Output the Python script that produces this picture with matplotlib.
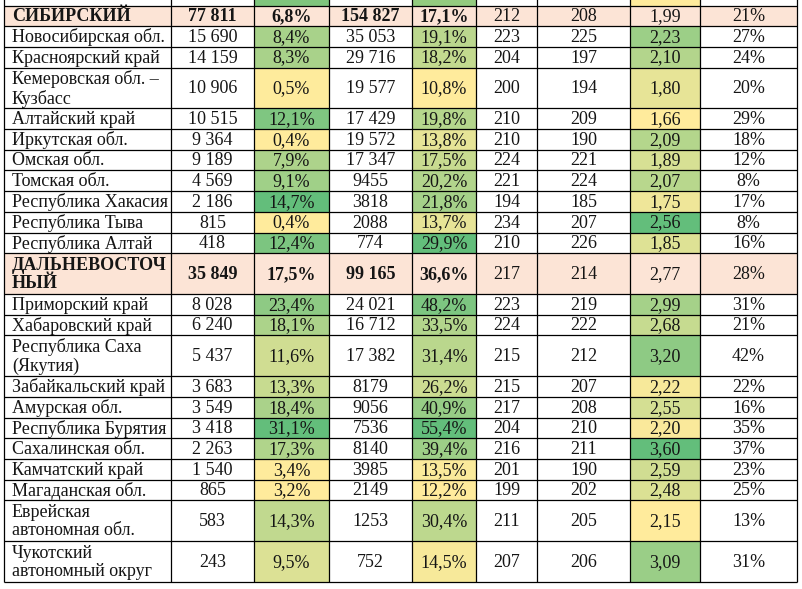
import matplotlib
matplotlib.use("Agg")
import matplotlib.pyplot as plt
from matplotlib.patches import Rectangle
from matplotlib.colors import to_rgb
import numpy as np

# ---------------- data ----------------
regions = ["СИБИРСКИЙ", "Новосибирская обл.", "Красноярский край",
           "Кемеровская обл. –\nКузбасс", "Алтайский край", "Иркутская обл.",
           "Омская обл.", "Томская обл.", "Республика Хакасия", "Республика Тыва",
           "Республика Алтай", "ДАЛЬНЕВОСТОЧ\nНЫЙ", "Приморский край",
           "Хабаровский край", "Республика Саха\n(Якутия)", "Забайкальский край",
           "Амурская обл.", "Республика Бурятия", "Сахалинская обл.",
           "Камчатский край", "Магаданская обл.", "Еврейская\nавтономная обл.",
           "Чукотский\nавтономный округ"]
is_total = [True] + [False] * 10 + [True] + [False] * 11
group = [0] * 11 + [1] * 12

col1 = ["77 811", "15 690", "14 159", "10 906", "10 515", "9 364", "9 189", "4 569",
        "2 186", "815", "418", "35 849", "8 028", "6 240", "5 437", "3 683", "3 549",
        "3 418", "2 263", "1 540", "865", "583", "243"]
pct1 = [6.8, 8.4, 8.3, 0.5, 12.1, 0.4, 7.9, 9.1, 14.7, 0.4, 12.4,
        17.5, 23.4, 18.1, 11.6, 13.3, 18.4, 31.1, 17.3, 3.4, 3.2, 14.3, 9.5]
col2 = ["154 827", "35 053", "29 716", "19 577", "17 429", "19 572", "17 347", "9455",
        "3818", "2088", "774", "99 165", "24 021", "16 712", "17 382", "8179", "9056",
        "7536", "8140", "3985", "2149", "1253", "752"]
pct2 = [17.1, 19.1, 18.2, 10.8, 19.8, 13.8, 17.5, 20.2, 21.8, 13.7, 29.9,
        36.6, 48.2, 33.5, 31.4, 26.2, 40.9, 55.4, 39.4, 13.5, 12.2, 30.4, 14.5]
col3 = [212, 223, 204, 200, 210, 210, 224, 221, 194, 234, 210,
        217, 223, 224, 215, 215, 217, 204, 216, 201, 199, 211, 207]
col4 = [208, 225, 197, 194, 209, 190, 221, 224, 185, 207, 226,
        214, 219, 222, 212, 207, 208, 210, 211, 190, 202, 205, 206]
ratio = [1.99, 2.23, 2.10, 1.80, 1.66, 2.09, 1.89, 2.07, 1.75, 2.56, 1.85,
         2.77, 2.99, 2.68, 3.20, 2.22, 2.55, 2.20, 3.60, 2.59, 2.48, 2.15, 3.09]
share = [21, 27, 24, 20, 29, 18, 12, 8, 17, 8, 16,
         28, 31, 21, 42, 22, 16, 35, 37, 23, 25, 13, 31]

# ---------------- layout / style ----------------
W, H = 802, 589
col_x = [4, 171, 254, 329, 412, 476, 537, 630, 700, 797]
y0 = 5.5
single_h, double_h = 20.7, 40.8
FONT = "Liberation Serif"
FS = 13
TXT = "#151515"
PEACH = "#FCE4D6"
C_MIN = np.array(to_rgb("#FFEB9C"))
C_MAX = np.array(to_rgb("#63BE7B"))


def fmt_pct(v):
    return f"{v:.1f}".replace(".", ",") + "%"


def scale_color(v, lo, hi):
    t = 0.0 if hi == lo else (v - lo) / (hi - lo)
    return tuple(C_MIN + (C_MAX - C_MIN) * t)


fig = plt.figure(figsize=(W / 100, H / 100), dpi=100)
ax = fig.add_axes([0, 0, 1, 1])
ax.set_xlim(0, W)
ax.set_ylim(H, 0)
ax.axis("off")

# row geometry
heights = [double_h if "\n" in r else single_h for r in regions]
tops = [y0]
for h in heights[:-1]:
    tops.append(tops[-1] + h)
bottom = tops[-1] + heights[-1]

# partial row at the very top (cut off)
part_colors = {2: "#7FC57D", 4: "#93CB7F", 7: "#FFEB9C"}
for ci, c in part_colors.items():
    ax.add_patch(Rectangle((col_x[ci], -20), col_x[ci + 1] - col_x[ci], 20 + y0,
                           facecolor=c, edgecolor="none", zorder=1))

# colour scales per group
scaled_cols = {2: pct1, 4: pct2, 7: ratio}
ranges = {}
for ci, vals in scaled_cols.items():
    for g in (0, 1):
        vs = [v for v, gg, t in zip(vals, group, is_total) if gg == g and not t]
        ranges[(ci, g)] = (min(vs), max(vs))

for i, name in enumerate(regions):
    top, h = tops[i], heights[i]
    yc = top + h / 2
    texts = [col1[i], fmt_pct(pct1[i]), col2[i], fmt_pct(pct2[i]), str(col3[i]),
             str(col4[i]), f"{ratio[i]:.2f}".replace(".", ","), f"{share[i]}%"]
    # backgrounds
    for ci in range(9):
        fc = None
        if is_total[i]:
            fc = PEACH
        elif ci in scaled_cols:
            lo, hi = ranges[(ci, group[i])]
            fc = scale_color(scaled_cols[ci][i], lo, hi)
        if fc is not None:
            ax.add_patch(Rectangle((col_x[ci], top), col_x[ci + 1] - col_x[ci], h,
                                   facecolor=fc, edgecolor="none", zorder=1))
    # name
    ax.text(col_x[0] + 8, yc + 0.8, name, ha="left", va="center", fontsize=FS,
            family=FONT, color=TXT, linespacing=1.1,
            fontweight="bold" if is_total[i] else "normal", zorder=3)
    for k, t in enumerate(texts):
        ci = k + 1
        xc = (col_x[ci] + col_x[ci + 1]) / 2
        bold = is_total[i] and ci <= 4
        ax.text(xc, yc + 0.8, t, ha="center", va="center", fontsize=FS, family=FONT,
                color=TXT, fontweight="bold" if bold else "normal", zorder=3)

# grid lines
lw = 0.9
for x in col_x:
    ax.plot([x, x], [-5, bottom], color="black", lw=lw, zorder=4,
            solid_capstyle="butt")
for t in tops + [bottom]:
    ax.plot([col_x[0], col_x[-1]], [t, t], color="black", lw=lw, zorder=4,
            solid_capstyle="butt")

fig.savefig("out.png", dpi=100, facecolor="white")
